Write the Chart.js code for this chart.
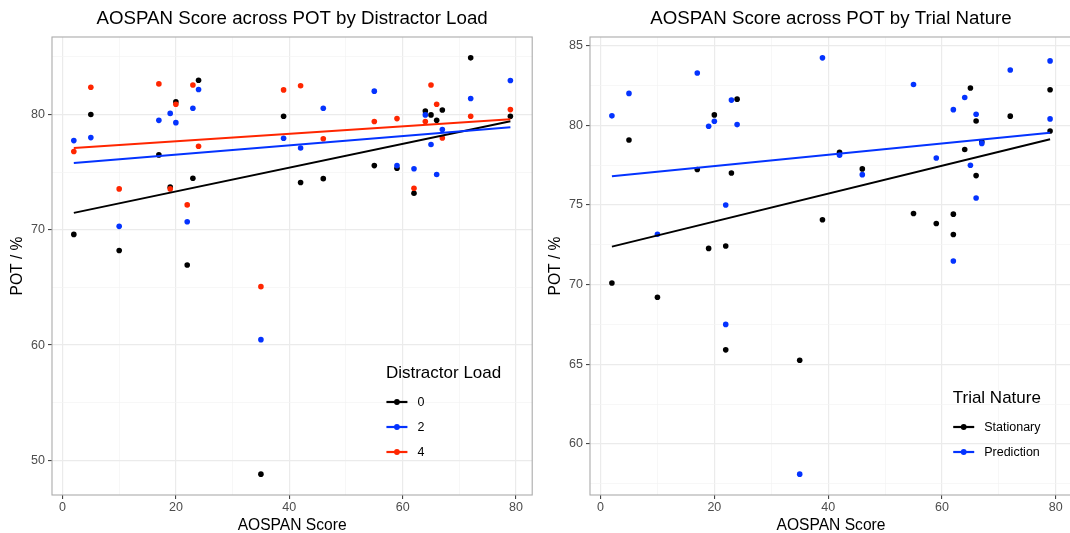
<!DOCTYPE html>
<html>
<head>
<meta charset="utf-8">
<script src="https://cdn.jsdelivr.net/npm/chart.js@4.4.0/dist/chart.umd.min.js"></script>
<style>
html,body{margin:0;padding:0;background:#fff;}
#wrap{position:relative;width:1070px;height:533px;overflow:hidden;}
#loadChart{position:absolute;left:0;top:0;}
#natureChart{position:absolute;left:535px;top:0;}
</style>
</head>
<body>
<div id="wrap">
  <canvas id="loadChart" width="535" height="533"></canvas>
  <canvas id="natureChart" width="540" height="533"></canvas>
</div>
<script>
// POT (%) against AOSPAN score, split by distractor load
const aospan = [2,5,10,17,19,20,22,23,24,35,39,42,46,55,59,62,64,65,66,67,72,79];
const potLoad0 = [69.6,80.0,68.2,76.5,73.7,81.1,66.95,74.47,82.98,48.8,79.85,74.1,74.44,75.57,75.34,73.17,80.3,79.97,79.5,80.4,84.92,79.85];
const potLoad2 = [77.74,78.0,70.3,79.5,80.1,79.3,70.7,80.55,82.17,60.47,77.94,77.1,80.55,82.03,75.57,75.3,79.97,77.4,74.8,78.7,81.4,82.95];
const potLoad4 = [76.8,82.37,73.55,82.66,73.55,80.9,72.16,82.57,77.25,65.07,82.14,82.5,77.9,79.4,79.65,73.6,79.4,82.57,80.9,77.97,79.85,80.43];
const loadLevels = ['0','2','4'];

// fitted lm lines (ends at x = 2 and x = 79)
const fitRange = [2, 79];
const fitLoad0 = [71.47, 79.42];
const fitLoad2 = [75.8, 78.9];
const fitLoad4 = [77.1, 79.6];

// POT against AOSPAN score, split by trial nature
const aospanNature = [2,5,10,17,19,20,22,22,23,24,35,39,42,46,55,59,62,62,64,65,66,66,67,72,79,79];
const potStationary = [70.1,79.07,69.2,77.22,72.27,80.65,72.42,65.9,77.0,81.64,65.25,74.07,78.31,77.26,74.46,73.83,74.42,73.14,78.48,82.34,80.27,76.84,78.96,80.57,82.23,79.64];
const potPrediction = [80.59,82.0,73.16,83.28,79.94,80.25,74.99,67.5,81.58,80.04,58.1,84.23,78.12,76.9,82.56,77.94,80.98,71.48,81.74,77.49,80.69,75.43,78.86,83.47,84.04,80.4];
const natureLevels = ['Stationary','Prediction'];
const fitStationary = [72.38, 79.12];
const fitPrediction = [76.8, 79.53];

// axis breaks
const xBreaks = [0,10,20,30,40,50,60,70,80];
const xLabelled = [0,20,40,60,80];
const yBreaksLoad = [50,55,60,65,70,75,80,85];
const yLabelledLoad = [50,60,70,80];
const yBreaksNature = [57.5,60,62.5,65,67.5,70,72.5,75,77.5,80,82.5,85];
const yLabelledNature = [60,65,70,75,80,85];

const BLACK = '#000000', BLUE = '#0433ff', RED = '#ff2600';
const FONT = '"Liberation Sans", Arial, Helvetica, sans-serif';

const pts = (xs, ys) => xs.map((x, i) => ({x, y: ys[i]}));

function pointSet(label, xs, ys, color, order) {
  return {label, data: pts(xs, ys), backgroundColor: color, borderColor: color,
    pointRadius: 2.8, pointBorderWidth: 0, pointHoverRadius: 2.8, showLine: false, order};
}
function fitSet(ys, color, order) {
  return {data: pts(fitRange, ys), borderColor: color, backgroundColor: color, borderWidth: 2,
    pointRadius: 0, showLine: true, fill: false, order};
}

function xScale(min, max) {
  return {
    type: 'linear', min, max,
    afterBuildTicks: s => { s.ticks = xBreaks.map(v => ({value: v})); },
    afterFit: s => { s.height = 38; },
    ticks: {callback: v => xLabelled.includes(v) ? String(v) : '', color: '#4d4d4d',
      font: {family: FONT, size: 12.5}, padding: 1, maxRotation: 0, autoSkip: false},
    grid: {
      color: c => xLabelled.includes(c.tick.value) ? '#ebebeb' : '#f3f3f3',
      lineWidth: c => xLabelled.includes(c.tick.value) ? 1.2 : 0.7,
      tickLength: 4,
      tickColor: c => xLabelled.includes(c.tick.value) ? '#333333' : 'rgba(0,0,0,0)',
      tickWidth: 1
    },
    border: {display: false},
    title: {display: true, text: 'AOSPAN Score', color: '#000',
      font: {family: FONT, size: 15.6, lineHeight: 1}, padding: {top: 0, bottom: 0}}
  };
}

function yScale(min, max, breaks, labelled, width, titlePad) {
  return {
    type: 'linear', min, max,
    afterBuildTicks: s => { s.ticks = breaks.map(v => ({value: v})); },
    afterFit: s => { s.width = width; },
    ticks: {callback: v => labelled.includes(v) ? String(v) : '', color: '#4d4d4d',
      font: {family: FONT, size: 12.5}, padding: 3, autoSkip: false},
    grid: {
      color: c => labelled.includes(c.tick.value) ? '#ebebeb' : '#f3f3f3',
      lineWidth: c => labelled.includes(c.tick.value) ? 1.2 : 0.7,
      tickLength: 4,
      tickColor: c => labelled.includes(c.tick.value) ? '#333333' : 'rgba(0,0,0,0)',
      tickWidth: 1
    },
    border: {display: false},
    title: {display: true, text: 'POT / %', color: '#000',
      font: {family: FONT, size: 15.6, lineHeight: 1}, padding: {top: titlePad, bottom: 0}}
  };
}

// title centred over the panel, grey panel border, legend inside the panel
const panelDecor = {
  id: 'panelDecor',
  afterDatasetsDraw(chart, args, o) {
    const {ctx, chartArea: a} = chart;
    ctx.save();
    ctx.strokeStyle = '#ababab';
    ctx.lineWidth = 1.1;
    ctx.strokeRect(a.left, a.top, a.right - a.left, a.bottom - a.top);

    ctx.fillStyle = '#000';
    ctx.font = '18.7px ' + FONT;
    ctx.textAlign = 'center';
    ctx.textBaseline = 'middle';
    ctx.fillText(o.title, (a.left + a.right) / 2, 19);

    // legend
    ctx.textAlign = 'left';
    ctx.font = '17px ' + FONT;
    const titleW = ctx.measureText(o.legendTitle).width;
    ctx.font = '12.5px ' + FONT;
    const labW = Math.max(...o.labels.map(l => ctx.measureText(l).width));
    const w = Math.max(titleW, 32 + labW);
    const x0 = a.right - 31 - w;
    const lastY = a.bottom - 43;
    const firstY = lastY - 25 * (o.labels.length - 1);
    ctx.font = '17px ' + FONT;
    ctx.fillText(o.legendTitle, x0, firstY - 28.5);
    o.labels.forEach((lab, i) => {
      const y = firstY + 25 * i;
      ctx.strokeStyle = o.colors[i];
      ctx.lineWidth = 2.2;
      ctx.beginPath();
      ctx.moveTo(x0 + 0.5, y);
      ctx.lineTo(x0 + 21.5, y);
      ctx.stroke();
      ctx.fillStyle = o.colors[i];
      ctx.beginPath();
      ctx.arc(x0 + 11, y, 2.9, 0, Math.PI * 2);
      ctx.fill();
      ctx.fillStyle = '#000';
      ctx.font = '12.5px ' + FONT;
      ctx.fillText(lab, x0 + 31.5, y + 0.5);
    });
    ctx.restore();
  }
};

const common = {
  responsive: false,
  animation: false,
  events: [],
  plugins: {legend: {display: false}, tooltip: {enabled: false}, title: {display: false}}
};

new Chart(document.getElementById('loadChart'), {
  type: 'scatter',
  data: {datasets: [
    fitSet(fitLoad4, RED, 0),
    fitSet(fitLoad2, BLUE, 1),
    fitSet(fitLoad0, BLACK, 2),
    pointSet(loadLevels[2], aospan, potLoad4, RED, 3),
    pointSet(loadLevels[1], aospan, potLoad2, BLUE, 4),
    pointSet(loadLevels[0], aospan, potLoad0, BLACK, 5)
  ]},
  options: Object.assign({}, common, {
    layout: {padding: {top: 37, right: 0.5, bottom: 0, left: 0}},
    scales: {
      x: xScale(-1.85, 82.85),
      y: yScale(46.99, 86.73, yBreaksLoad, yLabelledLoad, 52, 10)
    },
    plugins: Object.assign({}, common.plugins, {
      panelDecor: {title: 'AOSPAN Score across POT by Distractor Load', legendTitle: 'Distractor Load',
        labels: loadLevels, colors: [BLACK, BLUE, RED]}
    })
  }),
  plugins: [panelDecor]
});

new Chart(document.getElementById('natureChart'), {
  type: 'scatter',
  data: {datasets: [
    fitSet(fitPrediction, BLUE, 0),
    fitSet(fitStationary, BLACK, 1),
    pointSet(natureLevels[1], aospanNature, potPrediction, BLUE, 2),
    pointSet(natureLevels[0], aospanNature, potStationary, BLACK, 3)
  ]},
  options: Object.assign({}, common, {
    layout: {padding: {top: 37, right: 3, bottom: 0, left: 0}},
    scales: {
      x: xScale(-1.85, 82.85),
      y: yScale(56.79, 85.54, yBreaksNature, yLabelledNature, 55, 13)
    },
    plugins: Object.assign({}, common.plugins, {
      panelDecor: {title: 'AOSPAN Score across POT by Trial Nature', legendTitle: 'Trial Nature',
        labels: natureLevels, colors: [BLACK, BLUE]}
    })
  }),
  plugins: [panelDecor]
});
</script>
</body>
</html>
